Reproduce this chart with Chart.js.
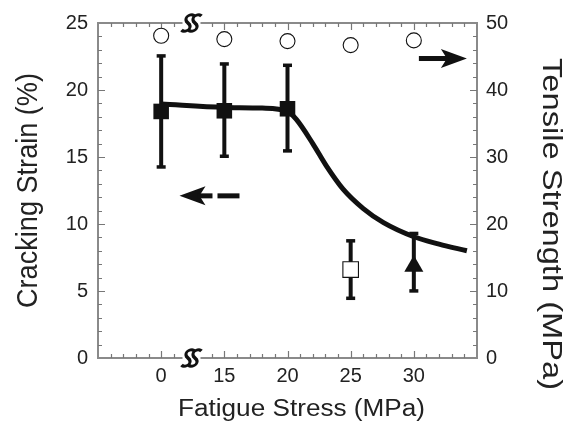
<!DOCTYPE html>
<html>
<head>
<meta charset="utf-8">
<script src="https://cdn.jsdelivr.net/npm/chart.js@4.4.0/dist/chart.umd.min.js"></script>
<style>
  html, body { margin: 0; padding: 0; background: #fff; }
</style>
</head>
<body>
<canvas id="chart" width="567" height="424"></canvas>
<script>
// fatigue stress (MPa); 0 is drawn left of the axis break
var fatigueStress = [0, 15, 20, 25, 30];
var tensileStrength = [48.1, 47.6, 47.3, 46.7, 47.4];

var squareStress = [0, 15, 20];
var squareStrain = [18.4, 18.45, 18.6];
var squareLow = [14.2, 15.0, 15.4];
var squareHigh = [22.6, 22.0, 21.9];

var openStress = [25];
var openStrain = [6.6];
var openLow = [4.4];
var openHigh = [8.8];

var triStress = [30];
var triStrain = [6.85];
var triLow = [4.95];
var triHigh = [9.35];

// trend line
var trendStress = [0, 15, 18, 20, 20.7, 22, 23.1, 24.4, 26, 27.6, 30, 32, 34.2];
var trendStrain = [18.95, 18.7, 18.65, 18.4, 17.8, 16.0, 14.3, 12.6, 11.15, 10.1, 9.05, 8.5, 8.0];

var xTickLabels = [0, 15, 20, 25, 30];
var strainTicks = [0, 5, 10, 15, 20, 25];
var strengthTicks = [0, 10, 20, 30, 40, 50];

var FONT = "'Liberation Sans', Arial, sans-serif";
var INK = '#111';
var AXIS = '#8a8a8a';

// broken axis: stress 0 sits at position 10
function pos(s) { return s === 0 ? 10 : s; }
function pts(xs, ys) { return xs.map(function (s, i) { return { x: pos(s), y: ys[i] }; }); }

function errorBars(ctx, sx, sy, xs, lo, hi) {
    ctx.fillStyle = INK;
    xs.forEach(function (s, i) {
        var x = sx.getPixelForValue(pos(s));
        var y0 = sy.getPixelForValue(lo[i]);
        var y1 = sy.getPixelForValue(hi[i]);
        ctx.fillRect(x - 2, y1, 4, y0 - y1);
        ctx.fillRect(x - 4.5, y1 - 1, 9, 3.5);
        ctx.fillRect(x - 4.5, y0 - 2.5, 9, 3.5);
    });
}

function breakMark(ctx, cx, cy) {
    ctx.fillStyle = '#fff';
    ctx.fillRect(cx - 9, cy - 2, 18, 4);
    ctx.strokeStyle = INK;
    ctx.lineWidth = 3;
    [-3.5, 3.5].forEach(function (dx) {
        ctx.save();
        ctx.transform(1, 0, -0.35, 1, cx + dx, cy);
        ctx.beginPath();
        ctx.moveTo(4, -7);
        ctx.bezierCurveTo(0, -10, -6.5, -6.5, -2, -1.5);
        ctx.lineTo(2, 1.5);
        ctx.bezierCurveTo(6.5, 6.5, 0, 10, -4, 7);
        ctx.stroke();
        ctx.restore();
    });
}

function arrow(ctx, tipX, tailX, y, dashed) {
    var dir = tailX > tipX ? 1 : -1;
    ctx.fillStyle = INK;
    ctx.beginPath();
    ctx.moveTo(tipX, y);
    ctx.lineTo(tipX + dir * 26, y - 9.5);
    ctx.lineTo(tipX + dir * 20, y);
    ctx.lineTo(tipX + dir * 26, y + 9.5);
    ctx.closePath();
    ctx.fill();
    var a = tipX + dir * 18;
    if (dashed) {
        var gap = tipX + dir * 33;
        ctx.fillRect(Math.min(a, gap), y - 2.5, Math.abs(gap - a), 5);
        ctx.fillRect(Math.min(gap + dir * 5, tailX), y - 2.5, Math.abs(tailX - gap - dir * 5), 5);
    } else {
        ctx.fillRect(Math.min(a, tailX), y - 2.5, Math.abs(tailX - a), 5);
    }
}

function title(ctx, text, cx, cy, rot, size, len) {
    ctx.save();
    ctx.translate(cx, cy);
    ctx.rotate(rot);
    ctx.font = size + 'px ' + FONT;
    var w = ctx.measureText(text).width;
    ctx.scale(len / w, 1);
    ctx.fillStyle = '#222';
    ctx.textAlign = 'center';
    ctx.textBaseline = 'middle';
    ctx.fillText(text, 0, 0);
    ctx.restore();
}

var decor = {
    id: 'decor',
    beforeDraw: function (chart) {
        var ctx = chart.ctx;
        ctx.save();
        ctx.fillStyle = '#fff';
        ctx.fillRect(0, 0, chart.width, chart.height);
        ctx.restore();
    },
    beforeDatasetsDraw: function (chart) {
        var ctx = chart.ctx, a = chart.chartArea;
        var sx = chart.scales.x, sy = chart.scales.y;
        ctx.save();
        // frame
        ctx.strokeStyle = AXIS;
        ctx.lineWidth = 2;
        ctx.strokeRect(a.left, a.top, a.right - a.left, a.bottom - a.top);
        // inward ticks
        ctx.lineWidth = 1.2;
        ctx.strokeStyle = '#777';
        ctx.beginPath();
        for (var v = 6; v <= 34; v++) {
            if (v === 12 || v === 13) continue;
            var x = Math.round(sx.getPixelForValue(v)) + 0.5;
            var len = v % 5 === 0 ? 7 : 4;
            ctx.moveTo(x, a.bottom); ctx.lineTo(x, a.bottom - len);
            ctx.moveTo(x, a.top); ctx.lineTo(x, a.top + len);
        }
        for (var s = 1; s < 25; s++) {
            var y = Math.round(sy.getPixelForValue(s)) + 0.5;
            var l = s % 5 === 0 ? 7 : 4;
            ctx.moveTo(a.left, y); ctx.lineTo(a.left + l, y);
            ctx.moveTo(a.right, y); ctx.lineTo(a.right - l, y);
        }
        ctx.stroke();
        // axis breaks
        var bx = sx.getPixelForValue(12.4);
        breakMark(ctx, bx, a.top);
        breakMark(ctx, bx, a.bottom);
        // error bars
        errorBars(ctx, sx, sy, squareStress, squareLow, squareHigh);
        errorBars(ctx, sx, sy, openStress, openLow, openHigh);
        errorBars(ctx, sx, sy, triStress, triLow, triHigh);
        ctx.restore();
    },
    afterDraw: function (chart) {
        var ctx = chart.ctx;
        var sx = chart.scales.x, sy = chart.scales.y, sy2 = chart.scales.y2;
        ctx.save();
        arrow(ctx, sx.getPixelForValue(11.45), sx.getPixelForValue(16.2), sy.getPixelForValue(12.1), true);
        arrow(ctx, sx.getPixelForValue(34.2), sx.getPixelForValue(30.4), sy2.getPixelForValue(44.7), false);
        title(ctx, 'Cracking Strain (%)', 29, 190.5, -Math.PI / 2, 29, 235);
        title(ctx, 'Tensile Strength (MPa)', 550, 224, Math.PI / 2, 27, 332);
        title(ctx, 'Fatigue Stress (MPa)', 301.5, 410, 0, 23, 247);
        ctx.restore();
    }
};

new Chart(document.getElementById('chart'), {
    type: 'scatter',
    data: {
        datasets: [
            {
                data: pts(fatigueStress, tensileStrength),
                yAxisID: 'y2',
                pointStyle: 'circle',
                pointRadius: 7.5,
                backgroundColor: '#fff',
                borderColor: INK,
                borderWidth: 1.1
            },
            {
                data: pts(squareStress, squareStrain),
                yAxisID: 'y',
                pointStyle: 'rect',
                pointRadius: 11,
                backgroundColor: INK,
                borderColor: INK,
                borderWidth: 0
            },
            {
                data: pts(openStress, openStrain),
                yAxisID: 'y',
                pointStyle: 'rect',
                pointRadius: 11,
                backgroundColor: '#fff',
                borderColor: INK,
                borderWidth: 1.1
            },
            {
                data: pts(triStress, triStrain),
                yAxisID: 'y',
                pointStyle: 'triangle',
                pointRadius: 11,
                backgroundColor: INK,
                borderColor: INK,
                borderWidth: 0
            },
            {
                data: pts(trendStress, trendStrain),
                yAxisID: 'y',
                showLine: true,
                pointRadius: 0,
                borderColor: INK,
                borderWidth: 5,
                cubicInterpolationMode: 'monotone',
                borderCapStyle: 'butt'
            }
        ]
    },
    options: {
        responsive: false,
        animation: false,
        devicePixelRatio: 1,
        layout: { padding: { top: 23, left: 0, right: 0, bottom: 0 } },
        plugins: { legend: { display: false }, tooltip: { enabled: false } },
        scales: {
            x: {
                type: 'linear',
                min: 5,
                max: 35,
                grid: { display: false, drawTicks: false },
                border: { display: false },
                afterBuildTicks: function (s) { s.ticks = xTickLabels.map(function (v) { return { value: pos(v) }; }); },
                afterFit: function (s) { s.height = 66; },
                ticks: {
                    padding: 6,
                    color: '#222',
                    font: { family: FONT, size: 20 },
                    callback: function (v) { return v === 10 ? '0' : String(v); }
                }
            },
            y: {
                position: 'left',
                min: 0,
                max: 25,
                grid: { display: false, drawTicks: false },
                border: { display: false },
                afterBuildTicks: function (s) { s.ticks = strainTicks.map(function (v) { return { value: v }; }); },
                afterFit: function (s) { s.width = 98; },
                ticks: { padding: 10, color: '#222', font: { family: FONT, size: 20 } }
            },
            y2: {
                position: 'right',
                min: 0,
                max: 50,
                grid: { display: false, drawTicks: false },
                border: { display: false },
                afterBuildTicks: function (s) { s.ticks = strengthTicks.map(function (v) { return { value: v }; }); },
                afterFit: function (s) { s.width = 90; },
                ticks: { padding: 9, color: '#222', font: { family: FONT, size: 20 } }
            }
        }
    },
    plugins: [decor]
});
</script>
</body>
</html>
